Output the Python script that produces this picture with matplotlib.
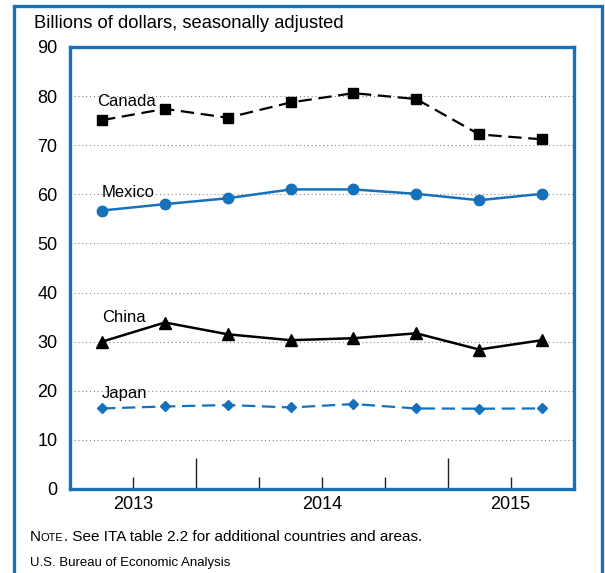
import matplotlib
matplotlib.use("Agg")
import matplotlib.pyplot as plt
from matplotlib.patches import Rectangle

plt.rcParams['font.family'] = ['Liberation Sans', 'DejaVu Sans']

# quarterly observations, 2013 Q3 .. 2015 Q2 (x in quarter units)
quarters = [0.5, 1.5, 2.5, 3.5, 4.5, 5.5, 6.5, 7.5]
canada = [75.1, 77.4, 75.6, 78.7, 80.6, 79.4, 72.2, 71.2]
mexico = [56.7, 58.0, 59.2, 61.0, 61.0, 60.1, 58.8, 60.1]
china = [30.0, 33.9, 31.5, 30.3, 30.7, 31.7, 28.4, 30.3]
japan = [16.4, 16.8, 17.1, 16.6, 17.3, 16.4, 16.35, 16.4]

year_ticks = [1, 3, 4, 5, 7]
year_labels = ["2013", "", "2014", "", "2015"]
year_breaks = [2, 6]

blue = "#1571bb"

fig = plt.figure(figsize=(6.05, 5.73), dpi=100)
ax = fig.add_axes([0.1157, 0.1466, 0.8331, 0.7714])

for y in range(10, 90, 10):
    ax.axhline(y, color="#888888", lw=0.8, ls=(0, (1, 2.5)), zorder=0)

ax.plot(quarters, canada, color="black", lw=1.6, ls=(0, (6, 3)), marker="s", ms=7.5)
ax.plot(quarters, mexico, color=blue, lw=1.8, marker="o", ms=7.5)
ax.plot(quarters, china, color="black", lw=1.8, marker="^", ms=8)
ax.plot(quarters, japan, color=blue, lw=1.6, ls=(0, (6, 3)), marker="D", ms=5.5)

ax.text(0.42, 79.0, "Canada", fontsize=12, va="center")
ax.text(0.5, 60.3, "Mexico", fontsize=12, va="center")
ax.text(0.5, 35.0, "China", fontsize=12, va="center")
ax.text(0.5, 19.5, "Japan", fontsize=12, va="center")

ax.set_xlim(-0.01, 8.01)
ax.set_ylim(0, 90)
ax.set_yticks(range(0, 100, 10))
ax.tick_params(axis="y", length=0, pad=9, labelsize=13)
ax.set_xticks(year_ticks)
ax.set_xticklabels(year_labels)
ax.set_xticks(year_breaks, minor=True)
ax.tick_params(axis="x", which="major", direction="in", length=9, width=1,
               color="#222222", labelsize=13, pad=5)
ax.tick_params(axis="x", which="minor", direction="in", length=22, width=1,
               color="#222222")
for s in ax.spines.values():
    s.set_color(blue)
    s.set_linewidth(2.4)

# outer frame
fig.patches.append(Rectangle((14 / 605, -0.05), 588 / 605, 1.05 - 6 / 573,
                             transform=fig.transFigure, fill=False,
                             edgecolor=blue, lw=2.4))

fig.text(34 / 605, 1 - 24 / 573, "Billions of dollars, seasonally adjusted",
         fontsize=13.2, va="center")

# note with small caps "NOTE"
fig.canvas.draw()
r = fig.canvas.get_renderer()
t1 = fig.text(30 / 605, 1 - 541 / 573, "N", fontsize=11, va="baseline")
x = t1.get_window_extent(r).x1
t2 = fig.text(x / 605, 1 - 541 / 573, "OTE", fontsize=8, va="baseline")
x = t2.get_window_extent(r).x1
fig.text(x / 605, 1 - 541 / 573,
         ". See ITA table 2.2 for additional countries and areas.",
         fontsize=11, va="baseline")

fig.text(30 / 605, 1 - 563 / 573, "U.S. Bureau of Economic Analysis",
         fontsize=9.5, va="center")

fig.savefig("out.png", dpi=100)
